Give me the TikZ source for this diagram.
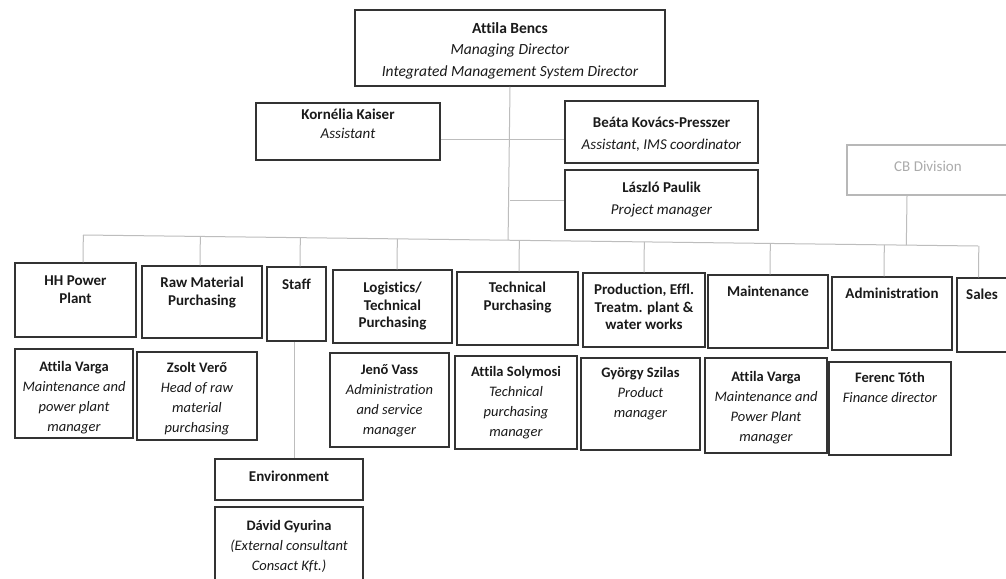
\documentclass[tikz,border=0pt]{standalone}
\usepackage{fontspec}
\setmainfont{Carlito}[Ligatures=NoCommon]
\usetikzlibrary{calc}
\definecolor{boxc}{HTML}{333333}
\definecolor{txtc}{HTML}{1A1A1A}
\definecolor{linec}{HTML}{BDBDBD}
\definecolor{cbc}{HTML}{B8B8B8}
\definecolor{cbt}{HTML}{ABABAB}
\newcommand\obox[5]{\node[box,minimum width={(#4-#2)*1pt},minimum height={(#5-#3)*1pt}] (#1) at ({(#2+#4)/2},{(#3+#5)/2}) {};}
\begin{document}
\begin{tikzpicture}[x=1pt,y=-1pt,
  box/.style={draw=boxc,line width=1.5pt,fill=white,inner sep=0pt,rectangle},
  txt/.style={align=center,text=txtc,inner sep=0pt,anchor=north,font=\fontsize{14.5}{20}\selectfont},
  dept/.style={txt,font=\fontsize{15}{17.5}\selectfont\bfseries},
  conn/.style={draw=linec,line width=1pt}]
\useasboundingbox (0,0) rectangle (1006,578);
\clip (0,0) rectangle (1006,578);
\fill[white] (0,0) rectangle (1006,578);

% top level
\obox{bencs}{355}{10}{665}{86}
\node[txt,font=\fontsize{15.5}{21.5}\selectfont] (bencsT) at (510,22) {\textbf{Attila Bencs}\\\textit{Managing Director}\\\textit{Integrated Management System Director}};
\obox{kaiser}{256}{103}{440}{160}
\node[txt,font=\fontsize{15}{19}\selectfont] (kaiserT) at (348,109) {\textbf{Kornélia Kaiser}\\\textit{Assistant}};
\obox{beata}{565}{101}{758}{163}
\node[txt,font=\fontsize{15}{22}\selectfont] (beataT) at (661.5,117) {\textbf{Beáta Kovács-Presszer}\\\textit{Assistant, IMS coordinator}};
\obox{paulik}{565}{170}{758}{230}
\node[txt,font=\fontsize{15}{22}\selectfont] (paulikT) at (661.5,182) {\textbf{László Paulik}\\\textit{Project manager}};
\node[draw=cbc,line width=1.2pt,fill=white,inner sep=0pt,minimum width=162pt,minimum height=50pt] (cb) at (928,170) {};
\node[txt,text=cbt,anchor=center,font=\fontsize{15}{18}\selectfont] (cbT) at (928,166) {CB Division};

% departments
\obox{hh}{15}{263}{136}{337}
\node[dept] (hhT) at (75.5,276) {HH Power\\Plant};
\obox{raw}{142}{266}{262}{338}
\node[dept] (rawT) at (202,277) {Raw Material\\Purchasing};
\obox{staff}{267}{267}{326}{341}
\node[dept] (staffT) at (296.5,279) {Staff};
\obox{log}{333}{270}{452}{343}
\node[dept] (logT) at (392.5,282) {Logistics/\\Technical\\Purchasing};
\obox{tp}{457}{272}{578}{345}
\node[dept] (tpT) at (517.5,282) {Technical\\Purchasing};
\obox{prod}{583}{273}{705}{347}
\node[dept] (prodT) at (644,284) {Production, Effl.\\Treatm. plant \&\\water works};
\obox{maint}{708}{275}{828}{348}
\node[dept] (maintT) at (768,286) {Maintenance};
\obox{admin}{832}{277}{952}{350}
\node[dept] (adminT) at (892,288) {Administration};
\obox{sales}{957}{278}{1008}{352}
\node[dept] (salesT) at (982,289) {Sales};

% people
\obox{varga}{15}{349}{133}{438}
\node[txt] (vargaT) at (74,361) {\textbf{Attila Varga}\\\textit{Maintenance and}\\\textit{power plant}\\\textit{manager}};
\obox{vero}{137}{352}{257}{440}
\node[txt] (veroT) at (197,362) {\textbf{Zsolt Verő}\\\textit{Head of raw}\\\textit{material}\\\textit{purchasing}};
\obox{vass}{330}{353}{449}{447}
\node[txt] (vassT) at (389.5,364) {\textbf{Jenő Vass}\\\textit{Administration}\\\textit{and service}\\\textit{manager}};
\obox{soly}{455}{356}{577}{449}
\node[txt] (solyT) at (516,366) {\textbf{Attila Solymosi}\\\textit{Technical}\\\textit{purchasing}\\\textit{manager}};
\obox{szilas}{581}{358}{700}{450}
\node[txt] (szilasT) at (640.5,367) {\textbf{György Szilas}\\\textit{Product}\\\textit{manager}};
\obox{vargab}{705}{358}{827}{453}
\node[txt] (vargabT) at (766,371) {\textbf{Attila Varga}\\\textit{Maintenance and}\\\textit{Power Plant}\\\textit{manager}};
\obox{toth}{829}{362}{951}{455}
\node[txt] (tothT) at (890,372) {\textbf{Ferenc Tóth}\\\textit{Finance director}};
\obox{env}{215}{459}{363}{500}
\node[dept] (envT) at (289,471) {Environment};
\obox{gyur}{215}{507}{363}{600}
\node[txt] (gyurT) at (289,520) {\textbf{Dávid Gyurina}\\\textit{(External consultant}\\\textit{Consact Kft.)}};

% connectors
\coordinate (busL) at (83,235);
\coordinate (busR) at (978,246);
\draw[conn] (busL) -- (busR);
\draw[conn] (bencs.south) -- ($(busL)!(bencs.south)!(busR)$);
\draw[conn] ([yshift=-8pt]kaiser.east) -- ([yshift=-8pt]kaiser.east -| beata.west);
\draw[conn] (bencs.south |- paulik.west) -- (paulik.west);
\foreach \n/\d in {hh/7.5,raw/-2,staff/3.5,log/4.5,tp/1.5,prod/0,maint/2,admin/-8,sales/-4} {
  \coordinate (\n-d) at ([xshift=\d pt]\n.north);
  \draw[conn] (\n-d) -- ($(busL)!(\n-d)!(busR)$);
}
\coordinate (cb-d) at ([xshift=-21pt]cb.south);
\draw[conn] (cb-d) -- ($(busL)!(cb-d)!(busR)$);
\draw[conn] ([xshift=-2.5pt]staff.south) -- ([xshift=-2.5pt]staff.south |- env.north);
\end{tikzpicture}
\end{document}
